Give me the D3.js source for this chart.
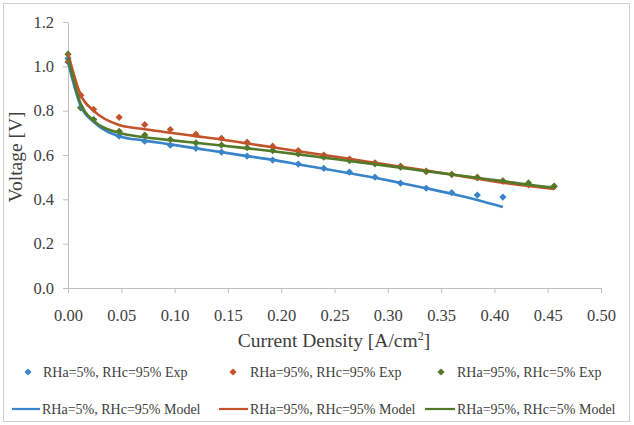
<!DOCTYPE html>
<html>
<head>
<meta charset="utf-8">
<script src="https://cdn.jsdelivr.net/npm/d3@7"></script>
<style>
  body { margin: 0; background: #fff; }
</style>
</head>
<body>
<div class="chart"></div>
<script>
var width = 634,
    height = 425;
var serif = "'Liberation Serif'";

// current density [A/cm2]
var currentDensity = [0, 0.012, 0.024, 0.048, 0.072, 0.096, 0.12, 0.144, 0.168, 0.192, 0.216,
  0.24, 0.264, 0.288, 0.312, 0.336, 0.36, 0.384, 0.408, 0.432, 0.456];

// experiments (voltage)
var expA = [1.035, 0.815, 0.76, 0.685, 0.662, 0.644, 0.63, 0.613, 0.595, 0.577, 0.559,
  0.54, 0.523, 0.5, 0.473, 0.45, 0.43, 0.419, 0.41];
var expB = [1.02, 0.87, 0.806, 0.77, 0.737, 0.715, 0.694, 0.675, 0.658, 0.64, 0.62,
  0.6, 0.582, 0.565, 0.55, 0.525, 0.513, 0.5, 0.483, 0.465, 0.457];
var expC = [1.055, 0.812, 0.76, 0.707, 0.69, 0.67, 0.655, 0.645, 0.633, 0.62, 0.605,
  0.59, 0.575, 0.56, 0.545, 0.527, 0.512, 0.497, 0.482, 0.474, 0.46];

// models (voltage)
var modelA = [1.02, 0.82, 0.75, 0.685, 0.665, 0.648, 0.63, 0.613, 0.595, 0.578, 0.558,
  0.538, 0.518, 0.497, 0.474, 0.45, 0.425, 0.397, 0.365];
var modelB = [1.06, 0.87, 0.8, 0.735, 0.716, 0.7, 0.685, 0.67, 0.652, 0.635, 0.617,
  0.6, 0.583, 0.565, 0.547, 0.53, 0.512, 0.493, 0.475, 0.46, 0.447];
var modelC = [1.04, 0.83, 0.755, 0.7, 0.68, 0.667, 0.655, 0.643, 0.63, 0.617, 0.603,
  0.588, 0.573, 0.558, 0.543, 0.527, 0.512, 0.497, 0.482, 0.466, 0.453];

var xTicks = [0, 0.05, 0.1, 0.15, 0.2, 0.25, 0.3, 0.35, 0.4, 0.45, 0.5];
var yTicks = [0, 0.2, 0.4, 0.6, 0.8, 1.0, 1.2];

var names = ["RHa=5%, RHc=95%", "RHa=95%, RHc=95%", "RHa=95%, RHc=5%"];
var colors = ["#3a84c9", "#c2532b", "#527a2a"];

var expSeries = [expA, expB, expC];
var modelSeries = [modelA, modelB, modelC];

var svg = d3.select(".chart").append("svg")
    .attr("width", width)
    .attr("height", height);

// outer frame
svg.append("rect")
  .attr("x", 3.5).attr("y", 3.5)
  .attr("width", 626).attr("height", 418)
  .attr("fill", "#fff")
  .attr("stroke", "#d0d0d0");

var x = d3.scaleLinear().domain([0, 0.5]).range([68, 601]);
var y = d3.scaleLinear().domain([0, 1.2]).range([288, 22]);

// axes
var xAxis = svg.append("g")
  .attr("transform", "translate(0," + y(0) + ")")
  .call(d3.axisBottom(x).tickValues(xTicks).tickSize(5).tickSizeOuter(0)
    .tickFormat(d3.format(".2f")));
xAxis.select(".domain").attr("stroke", "#bfbfbf");
xAxis.selectAll(".tick line").attr("stroke", "#bfbfbf");
xAxis.selectAll(".tick text")
  .attr("y", 21)
  .attr("fill", "#404040")
  .style("font-family", serif)
  .style("font-size", "16.5px");

var yAxis = svg.append("g")
  .attr("transform", "translate(" + x(0) + ",0)")
  .call(d3.axisLeft(y).tickValues(yTicks).tickSize(5).tickSizeOuter(0)
    .tickFormat(d3.format(".1f")));
yAxis.select(".domain").attr("stroke", "#bfbfbf");
yAxis.selectAll(".tick line").attr("stroke", "#bfbfbf");
yAxis.selectAll(".tick text")
  .attr("x", -14)
  .attr("fill", "#404040")
  .style("font-family", serif)
  .style("font-size", "16.5px");

// axis titles
svg.append("text")
  .attr("x", 334).attr("y", 347)
  .attr("text-anchor", "middle")
  .attr("fill", "#404040")
  .style("font-family", serif)
  .style("font-size", "19.5px")
  .html('Current Density [A/cm<tspan dy="-7" font-size="12px">2</tspan><tspan dy="7">]</tspan>');

svg.append("text")
  .attr("transform", "translate(22,157) rotate(-90)")
  .attr("text-anchor", "middle")
  .attr("fill", "#404040")
  .style("font-family", serif)
  .style("font-size", "19.5px")
  .text("Voltage [V]");

var line = d3.line()
  .x(function(d) { return x(d[0]); })
  .y(function(d) { return y(d[1]); })
  .curve(d3.curveMonotoneX);

// square turned 45 degrees = Excel diamond
var diamond = d3.symbol().type(d3.symbolSquare).size(26);

// draw series: experiments then models
[0, 1, 2].forEach(function(s) {
  var pts = expSeries[s].map(function(v, i) { return [currentDensity[i], v]; });
  svg.append("g").selectAll("path")
    .data(pts)
    .enter()
    .append("path")
    .attr("d", diamond)
    .attr("fill", colors[s])
    .attr("transform", function(d) { return "translate(" + x(d[0]) + "," + y(d[1]) + ") rotate(45)"; });
});

[0, 1, 2].forEach(function(s) {
  var pts = modelSeries[s].map(function(v, i) { return [currentDensity[i], v]; });
  svg.append("path")
    .attr("d", line(pts))
    .attr("fill", "none")
    .attr("stroke", colors[s])
    .attr("stroke-width", 2.6)
    .attr("stroke-linejoin", "round");
});

// legend
var legX = [[28, 43], [233, 250], [441, 457]];
var lineX = [[12, 40], [219, 248], [425, 455]];

[0, 1, 2].forEach(function(s) {
  svg.append("path")
    .attr("d", d3.symbol().type(d3.symbolSquare).size(26))
    .attr("fill", colors[s])
    .attr("transform", "translate(" + legX[s][0] + ",372) rotate(45)");
  svg.append("text")
    .attr("x", legX[s][1]).attr("y", 377)
    .attr("fill", "#404040")
    .style("font-family", serif)
    .style("font-size", "14px")
    .text(names[s] + (s == 2 ? "  Exp" : " Exp"));

  svg.append("line")
    .attr("x1", lineX[s][0]).attr("x2", lineX[s][1])
    .attr("y1", 409).attr("y2", 409)
    .attr("stroke", colors[s])
    .attr("stroke-width", 2.2);
  svg.append("text")
    .attr("x", lineX[s][1] + 2).attr("y", 414)
    .attr("fill", "#404040")
    .style("font-family", serif)
    .style("font-size", "14px")
    .text(names[s] + " Model");
});
</script>
</body>
</html>
